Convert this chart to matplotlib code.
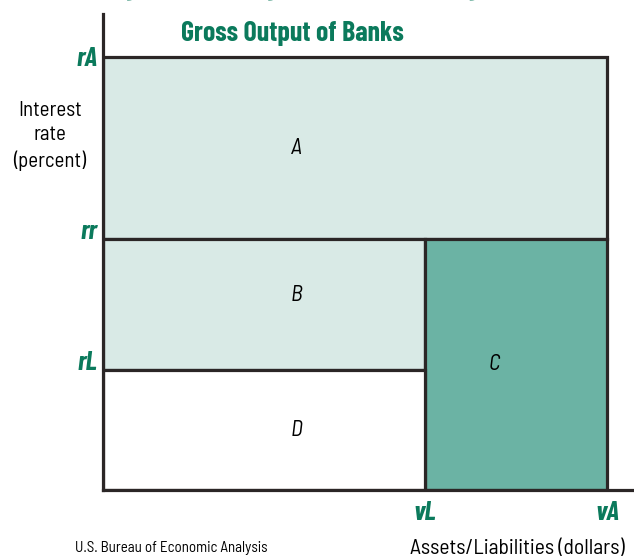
import matplotlib
matplotlib.use("Agg")
from matplotlib import pyplot as plt
from matplotlib import font_manager
from matplotlib.patches import Rectangle

# values (arbitrary units)
x_names = ["vL", "vA"]
x_vals = [3.22, 5.04]
y_names = ["rL", "rr", "rA"]
y_vals = [1.20, 2.51, 4.33]
area_names = ["A", "B", "C", "D"]
x_max = 5.31
y_max = 4.76

green = "#0b7a5c"
light = "#d9eae6"
dark = "#6bb3a4"
edge = "#2b2626"

# the original uses a condensed sans; take the first one that is installed
names = {f.name for f in font_manager.fontManager.ttflist}


def pick(*wanted):
    return [n for n in wanted if n in names][:1] + ["DejaVu Sans"]


body_font = pick("Liberation Sans Narrow", "Barlow Semi Condensed", "Liberation Sans")
head_font = pick("Barlow Condensed", "Barlow Semi Condensed", "Liberation Sans")
plt.rcParams["font.family"] = body_font

fig = plt.figure(figsize=(6.34, 5.58), dpi=100)
ax = fig.add_axes([103 / 634, 1 - 490 / 558, 531 / 634, 476 / 558])
ax.set_xlim(0, x_max)
ax.set_ylim(0, y_max)

vL, vA = x_vals
rL, rr, rA = y_vals
lw = 2.3

# A, B, C, D areas
ax.add_patch(Rectangle((0, rr), vA, rA - rr, facecolor=light, edgecolor=edge, lw=lw))
ax.add_patch(Rectangle((0, rL), vL, rr - rL, facecolor=light, edgecolor=edge, lw=lw))
ax.add_patch(Rectangle((vL, 0), vA - vL, rr, facecolor=dark, edgecolor=edge, lw=lw))
ax.add_patch(Rectangle((0, 0), vL, rL, facecolor="white", edgecolor=edge, lw=lw))

label_pos = [(0.6 * vL, (rr + rA) / 2), (0.6 * vL, rL + 0.57 * (rr - rL)),
             (vL + 0.38 * (vA - vL), rr / 2), (0.6 * vL, rL / 2)]
for name, (lx, ly) in zip(area_names, label_pos):
    ax.text(lx, ly, name, style="italic", fontsize=16, ha="center", va="center")

for s in ["top", "right"]:
    ax.spines[s].set_visible(False)
for s in ["left", "bottom"]:
    ax.spines[s].set_color(edge)
    ax.spines[s].set_linewidth(lw)

ax.set_xticks(x_vals)
ax.set_xticklabels(x_names)
ax.set_yticks(y_vals)
ax.set_yticklabels(y_names)
ax.tick_params(length=0)
ax.tick_params(axis="x", pad=8)
ax.tick_params(axis="y", pad=4)
for t in ax.get_xticklabels() + ax.get_yticklabels():
    t.set_color(green)
    t.set_fontfamily(head_font)
    t.set_fontweight("bold")
    t.set_style("italic")
    t.set_fontsize(19.5)
ylabels = ax.get_yticklabels()
ylabels[0].set_va("baseline")
ylabels[1].set_va("baseline")

fig.text(50 / 634, 1 - 136 / 558, "Interest\nrate\n(percent)", fontsize=15,
         ha="center", va="center", linespacing=1.35)
fig.text(517 / 634, 1 - 548 / 558, "Assets/Liabilities (dollars)", fontsize=15.5,
         ha="center", va="center")
fig.text(171 / 634, 1 - 548 / 558, "U.S. Bureau of Economic Analysis", fontsize=10.8,
         ha="center", va="center")

# title, first line runs off the top of the image as in the original
fig.text(292 / 634, 1 + 5.5 / 558, "Figure 1. Rectangle Graphic Depicting", fontsize=20,
         family=head_font, fontweight="bold", color=green, ha="center", va="baseline")
fig.text(292 / 634, 1 - 41 / 558, "Gross Output of Banks", fontsize=20,
         family=head_font, fontweight="bold", color=green, ha="center", va="baseline")

fig.savefig("out.png", dpi=100)
